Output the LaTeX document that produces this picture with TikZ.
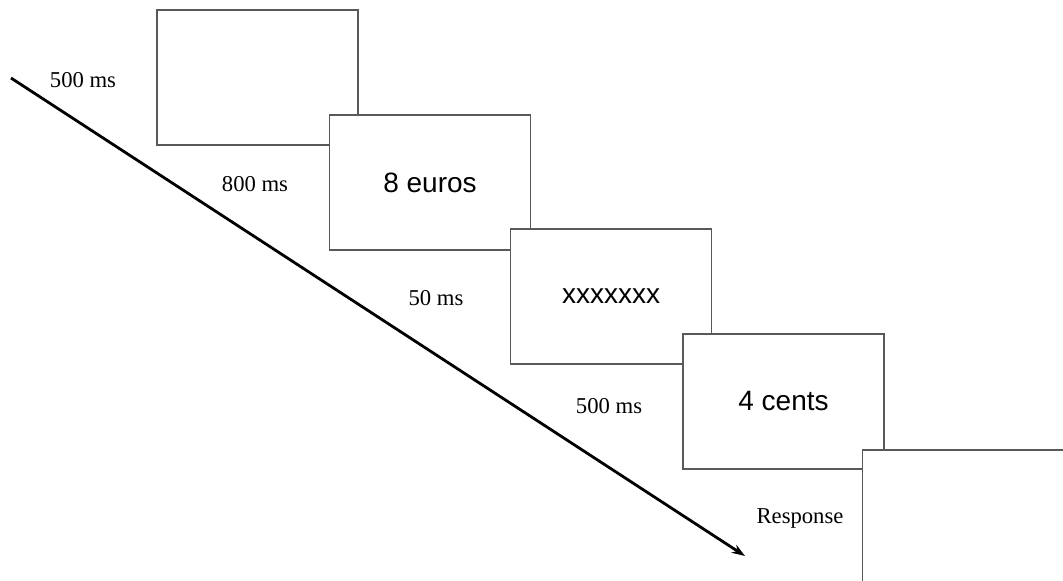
\documentclass[tikz,border=0pt]{standalone}
\usepackage{fontspec}
\setmainfont{Liberation Serif}
\setsansfont{Liberation Sans}
\usetikzlibrary{arrows.meta, positioning}

\tikzset{
    screen/.style={draw=black!65, line width=0.8pt, fill=white, rectangle,
        minimum width=150.75pt, minimum height=101.25pt, inner sep=0pt,
        font=\sffamily\fontsize{21}{25}\selectfont},
    timing/.style={inner sep=0pt, font=\fontsize{17}{20}\selectfont}
}

\begin{document}
\begin{tikzpicture}[x=0.75pt, y=-0.75pt]
        \useasboundingbox (0,0) rectangle (1063,581);
        \clip (0,0) rectangle (1063,581);
        % stimulus screens
        \foreach \n/\x/\y/\txt in {1/257.5/77.5/{}, 2/430/182.5/{8 euros}, 3/611/296.5/{xxxxxxx}, 4/783.5/401.5/{4 cents}, 5/963/517.5/{}} {
            \node[screen] (s\n) at (\x,\y) {\txt};
        }
        % durations
        \foreach \n/\x/\y/\txt in {1/83/80/{500 ms}, 2/255/184/{800 ms}, 3/436/298/{50 ms}, 4/609/406/{500 ms}, 5/800/518/{Response}} {
            \node[timing] (t\n) at (\x,\y) {\txt};
        }
        % time axis
        \coordinate (tstart) at (11,78);
        \coordinate (tend) at (745,556);
        \draw[-{Stealth[length=10pt, width=7pt]}, line width=2.1pt] (tstart) -- (tend);
    \end{tikzpicture}
\end{document}
